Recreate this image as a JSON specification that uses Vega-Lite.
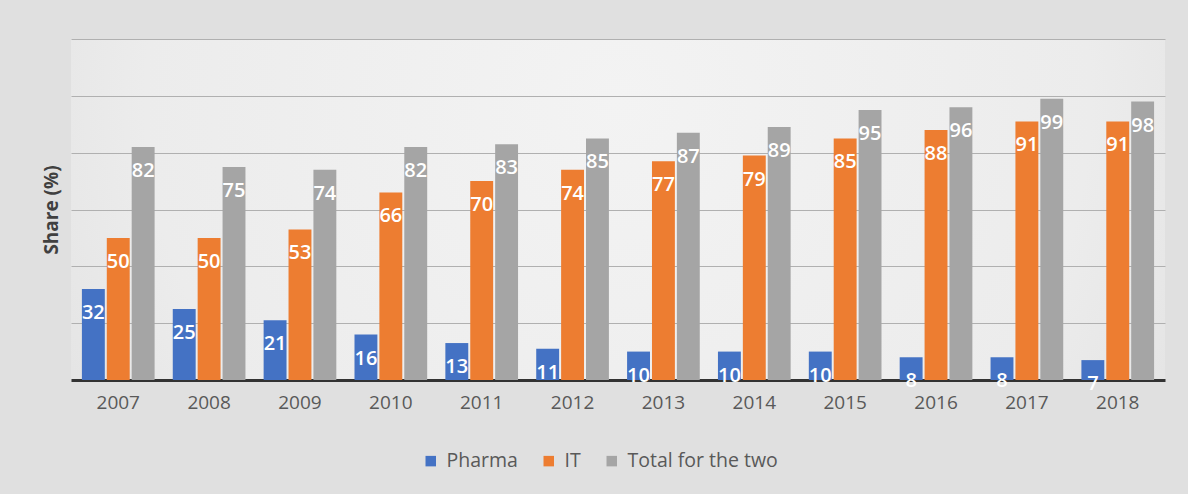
{
  "$schema": "https://vega.github.io/schema/vega-lite/v6.json",
  "autosize": {"type": "none"},
  "width": 1094,
  "height": 341,
  "padding": {"left": 71, "top": 39, "right": 23, "bottom": 114},
  "background": "#e0e0e0",
  "config": {
    "font": "Open Sans",
    "view": {
      "stroke": null,
      "fill": {
        "gradient": "radial",
        "x1": 0.5, "y1": 0.4, "r1": 0,
        "x2": 0.5, "y2": 0.4, "r2": 0.72,
        "stops": [
          {"offset": 0, "color": "#f3f3f3"},
          {"offset": 0.6, "color": "#ececec"},
          {"offset": 1, "color": "#dcdcdc"}
        ]
      }
    }
  },
  "data": {
    "values": [
      {"year": "2007", "series": "Pharma", "value": 32},
      {"year": "2008", "series": "Pharma", "value": 25},
      {"year": "2009", "series": "Pharma", "value": 21},
      {"year": "2010", "series": "Pharma", "value": 16},
      {"year": "2011", "series": "Pharma", "value": 13},
      {"year": "2012", "series": "Pharma", "value": 11},
      {"year": "2013", "series": "Pharma", "value": 10},
      {"year": "2014", "series": "Pharma", "value": 10},
      {"year": "2015", "series": "Pharma", "value": 10},
      {"year": "2016", "series": "Pharma", "value": 8},
      {"year": "2017", "series": "Pharma", "value": 8},
      {"year": "2018", "series": "Pharma", "value": 7},
      {"year": "2007", "series": "IT", "value": 50},
      {"year": "2008", "series": "IT", "value": 50},
      {"year": "2009", "series": "IT", "value": 53},
      {"year": "2010", "series": "IT", "value": 66},
      {"year": "2011", "series": "IT", "value": 70},
      {"year": "2012", "series": "IT", "value": 74},
      {"year": "2013", "series": "IT", "value": 77},
      {"year": "2014", "series": "IT", "value": 79},
      {"year": "2015", "series": "IT", "value": 85},
      {"year": "2016", "series": "IT", "value": 88},
      {"year": "2017", "series": "IT", "value": 91},
      {"year": "2018", "series": "IT", "value": 91},
      {"year": "2007", "series": "Total for the two", "value": 82},
      {"year": "2008", "series": "Total for the two", "value": 75},
      {"year": "2009", "series": "Total for the two", "value": 74},
      {"year": "2010", "series": "Total for the two", "value": 82},
      {"year": "2011", "series": "Total for the two", "value": 83},
      {"year": "2012", "series": "Total for the two", "value": 85},
      {"year": "2013", "series": "Total for the two", "value": 87},
      {"year": "2014", "series": "Total for the two", "value": 89},
      {"year": "2015", "series": "Total for the two", "value": 95},
      {"year": "2016", "series": "Total for the two", "value": 96},
      {"year": "2017", "series": "Total for the two", "value": 99},
      {"year": "2018", "series": "Total for the two", "value": 98}
    ]
  },
  "encoding": {
    "x": {
      "field": "year", "type": "nominal",
      "scale": {"paddingInner": 0.2, "paddingOuter": 0.12},
      "axis": {
        "title": null, "labelAngle": 0, "ticks": false,
        "labelFontSize": 19, "labelColor": "#595959", "labelPadding": 13,
        "domainColor": "#333333", "domainWidth": 3
      }
    },
    "xOffset": {
      "field": "series", "type": "nominal",
      "sort": ["Pharma", "IT", "Total for the two"],
      "scale": {"paddingInner": 0.08}
    },
    "y": {
      "field": "value", "type": "quantitative",
      "scale": {"domain": [0, 120]},
      "axis": {
        "title": "Share (%)", "titleFontSize": 19, "titleFontWeight": "bold",
        "titleColor": "#404040", "titlePadding": 10,
        "labels": false, "ticks": false, "domain": false,
        "values": [20, 40, 60, 80, 100, 120],
        "gridColor": "#b0b0b0", "gridWidth": 1
      }
    }
  },
  "layer": [
    {
      "mark": {"type": "bar"},
      "encoding": {
        "color": {
          "field": "series", "type": "nominal",
          "sort": ["Pharma", "IT", "Total for the two"],
          "scale": {
            "domain": ["Pharma", "IT", "Total for the two"],
            "range": ["#4472C4", "#ED7D31", "#A5A5A5"]
          },
          "legend": {
            "title": null, "orient": "none", "direction": "horizontal",
            "legendX": 350, "legendY": 412,
            "symbolType": "square", "symbolSize": 110, "symbolStrokeWidth": 0,
            "labelFontSize": 19.5, "labelColor": "#595959", "labelOffset": 6,
            "columnPadding": 21
          }
        }
      }
    },
    {
      "mark": {"type": "text", "baseline": "middle", "dy": 24, "color": "white", "fontSize": 20, "fontWeight": 600},
      "encoding": {
        "text": {"field": "value", "type": "quantitative"}
      }
    }
  ]
}
